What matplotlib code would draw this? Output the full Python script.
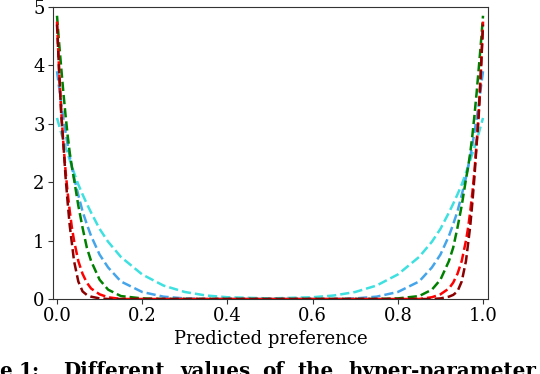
import matplotlib
matplotlib.use('Agg')
import matplotlib.pyplot as plt

# sample positions along the predicted preference axis
x_pts = [0.0, 0.005, 0.01, 0.015, 0.02, 0.025, 0.03, 0.035, 0.04, 0.05, 0.06, 0.07,
         0.08, 0.10, 0.12, 0.15, 0.20, 0.25, 0.30, 0.35, 0.40, 0.50, 0.60, 0.65,
         0.70, 0.75, 0.80, 0.85, 0.88, 0.90, 0.92, 0.93, 0.94, 0.95, 0.96, 0.965,
         0.97, 0.975, 0.98, 0.985, 0.99, 0.995, 1.0]

# curve values
cyan_y = [3.10, 2.97, 2.84, 2.72, 2.60, 2.49, 2.38, 2.27, 2.16, 1.96, 1.79, 1.63,
          1.48, 1.20, 0.98, 0.72, 0.42, 0.23, 0.12, 0.06, 0.03, 0.01, 0.03, 0.06,
          0.12, 0.23, 0.42, 0.72, 0.98, 1.20, 1.48, 1.63, 1.79, 1.96, 2.16, 2.27,
          2.38, 2.49, 2.60, 2.72, 2.84, 2.97, 3.10]
blue_y = [3.90, 3.62, 3.34, 3.09, 2.86, 2.64, 2.44, 2.26, 2.08, 1.78, 1.50, 1.28,
          1.08, 0.76, 0.54, 0.30, 0.12, 0.04, 0.01, 0.00, 0.00, 0.00, 0.00, 0.00,
          0.01, 0.04, 0.12, 0.30, 0.54, 0.76, 1.08, 1.28, 1.50, 1.78, 2.08, 2.26,
          2.44, 2.64, 2.86, 3.09, 3.34, 3.62, 3.90]
green_y = [4.85, 4.38, 3.95, 3.53, 3.15, 2.80, 2.50, 2.26, 2.05, 1.60, 1.22, 0.88,
           0.65, 0.33, 0.16, 0.05, 0.01, 0.00, 0.00, 0.00, 0.00, 0.00, 0.00, 0.00,
           0.00, 0.00, 0.01, 0.05, 0.16, 0.33, 0.65, 0.88, 1.22, 1.60, 2.05, 2.26,
           2.50, 2.80, 3.15, 3.53, 3.95, 4.38, 4.85]
red_y = [4.75, 3.90, 3.20, 2.66, 2.20, 1.82, 1.50, 1.22, 1.00, 0.65, 0.43, 0.28,
         0.18, 0.08, 0.03, 0.00, 0.00, 0.00, 0.00, 0.00, 0.00, 0.00, 0.00, 0.00,
         0.00, 0.00, 0.00, 0.00, 0.03, 0.08, 0.18, 0.28, 0.43, 0.65, 1.00, 1.22,
         1.50, 1.82, 2.20, 2.66, 3.20, 3.90, 4.75]
darkred_y = [4.70, 3.90, 3.15, 2.65, 2.10, 1.65, 1.25, 0.95, 0.65, 0.30, 0.13, 0.07,
             0.04, 0.01, 0.00, 0.00, 0.00, 0.00, 0.00, 0.00, 0.00, 0.00, 0.00, 0.00,
             0.00, 0.00, 0.00, 0.00, 0.00, 0.01, 0.04, 0.07, 0.13, 0.30, 0.65, 0.95,
             1.25, 1.65, 2.10, 2.65, 3.15, 3.90, 4.70]

series = [cyan_y, blue_y, green_y, red_y, darkred_y]
colors = ['#3ee0e0', '#45a5ea', 'green', 'red', 'darkred']

# caption words (the figure is cropped, so only part of the caption shows)
caption_words = ['e', '1:', 'Different', 'values', 'of', 'the', 'hyper-parameter']
caption_x = [-1, 19, 63, 180, 262, 298, 348]  # left edge of each word in pixels

plt.rcParams['font.family'] = 'DejaVu Serif'

W, H = 540, 374
fig = plt.figure(figsize=(W / 100, H / 100), dpi=100)
ax = fig.add_axes([53 / W, 1 - 299 / H, 435 / W, 292 / H])

for ys, c in zip(series, colors):
    ax.plot(x_pts, ys, linestyle='--', color=c, linewidth=1.8)

ax.set_xlim(-0.0094, 1.0117)
ax.set_ylim(0, 5)
ax.set_xticks([0.0, 0.2, 0.4, 0.6, 0.8, 1.0])
ax.set_yticks([0, 1, 2, 3, 4, 5])
ax.tick_params(labelsize=13, length=3.5, color='#333333', pad=2.5)
for s in ax.spines.values():
    s.set_color('#333333')
ax.set_xlabel('Predicted preference', fontsize=13, labelpad=3)

for word, px in zip(caption_words, caption_x):
    fig.text(px / W, 1 - 361 / H, word, fontsize=14.3, fontweight='bold',
             va='top', ha='left')

fig.savefig('out.png', dpi=100)
